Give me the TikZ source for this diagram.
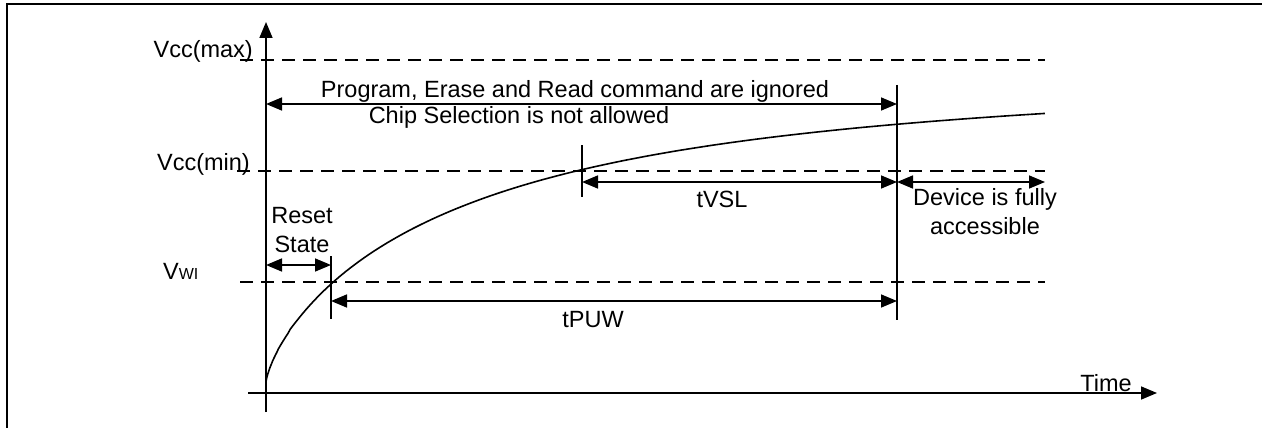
\documentclass[tikz,border=0pt]{standalone}
\usepackage{fontspec}
\setmainfont{Liberation Sans}
\usetikzlibrary{arrows.meta}
\tikzset{
    axisline/.style={line width=1.6pt, -{Triangle[length=16pt,width=13pt]}},
    guide/.style={line width=1.6pt, dash pattern=on 13pt off 8pt},
    dimline/.style={line width=1.6pt, {Triangle[length=16pt,width=13pt]}-{Triangle[length=16pt,width=13pt]}},
    barline/.style={line width=1.6pt},
    txt/.style={font=\fontsize{23.5}{29}\selectfont, inner sep=0pt, align=center}
}

\begin{document}
\begin{tikzpicture}[x=1pt, y=-1pt]
    \useasboundingbox (0,0) rectangle (1262,428);
    \draw[line width=2.2pt] (7,440) -- (7,4) -- (1270,4);

    \coordinate (ytop) at (266,22);
    \coordinate (ybot) at (266,412);
    \coordinate (xleft) at (248,393);
    \coordinate (xright) at (1157,393);
    \draw[axisline] (ybot) -- (ytop);
    \draw[axisline] (xleft) -- (xright);

    \coordinate (maxl) at (240,60);  \coordinate (maxr) at (1045,60);
    \coordinate (minl) at (237,171); \coordinate (minr) at (1045,171);
    \coordinate (wil) at (240,282);  \coordinate (wir) at (1045,282);
    \draw[guide] (maxl) -- (maxr);
    \draw[guide] (minl) -- (minr);
    \draw[guide] (wil) -- (wir);

    \draw[barline] plot[domain=0.01:27.91, samples=120, smooth]
        ({266+\x*\x}, {382-(268*(1-exp(-(\x*\x/190)^0.75))+0.02*\x*\x)});

    \coordinate (rdy1) at (897,85);  \coordinate (rdy2) at (897,320);
    \coordinate (vsl1) at (582,145); \coordinate (vsl2) at (582,197);
    \coordinate (puw1) at (331,256); \coordinate (puw2) at (331,319);
    \draw[barline] (rdy1) -- (rdy2);
    \draw[barline] (vsl1) -- (vsl2);
    \draw[barline] (puw1) -- (puw2);

    \coordinate (ign1) at (266,104); \coordinate (ign2) at (897,104);
    \coordinate (vsla) at (582,182); \coordinate (vslb) at (897,182);
    \coordinate (acc) at (1045,182);
    \coordinate (rst1) at (266,265); \coordinate (rst2) at (331,265);
    \coordinate (puwa) at (331,301); \coordinate (puwb) at (897,301);
    \draw[dimline] (ign1) -- (ign2);
    \draw[dimline] (vsla) -- (vslb);
    \draw[dimline] (vslb) -- (acc);
    \draw[dimline] (rst1) -- (rst2);
    \draw[dimline] (puwa) -- (puwb);

    \node[txt, anchor=base east] (vmax) at (253,58) {Vcc(max)};
    \node[txt, anchor=base east] (vmin) at (250,170) {Vcc(min)};
    \node[txt, anchor=base west] (vwi) at (163,279) {V{\fontsize{16}{16}\selectfont WI}};
    \node[txt, anchor=base] (ignored) at (575,97) {Program, Erase and Read command are ignored};
    \node[txt, anchor=base] (chipsel) at (519,123) {Chip Selection is not allowed};
    \node[txt, anchor=base] (tvsl) at (722,207) {tVSL};
    \node[txt, anchor=base] (device) at (985,234) {Device is fully\\accessible};
    \node[txt, anchor=base] (reset) at (302,252) {Reset\\State};
    \node[txt, anchor=base] (tpuw) at (593,327) {tPUW};
    \node[txt, anchor=base] (time) at (1106,391) {Time};
\end{tikzpicture}
\end{document}
